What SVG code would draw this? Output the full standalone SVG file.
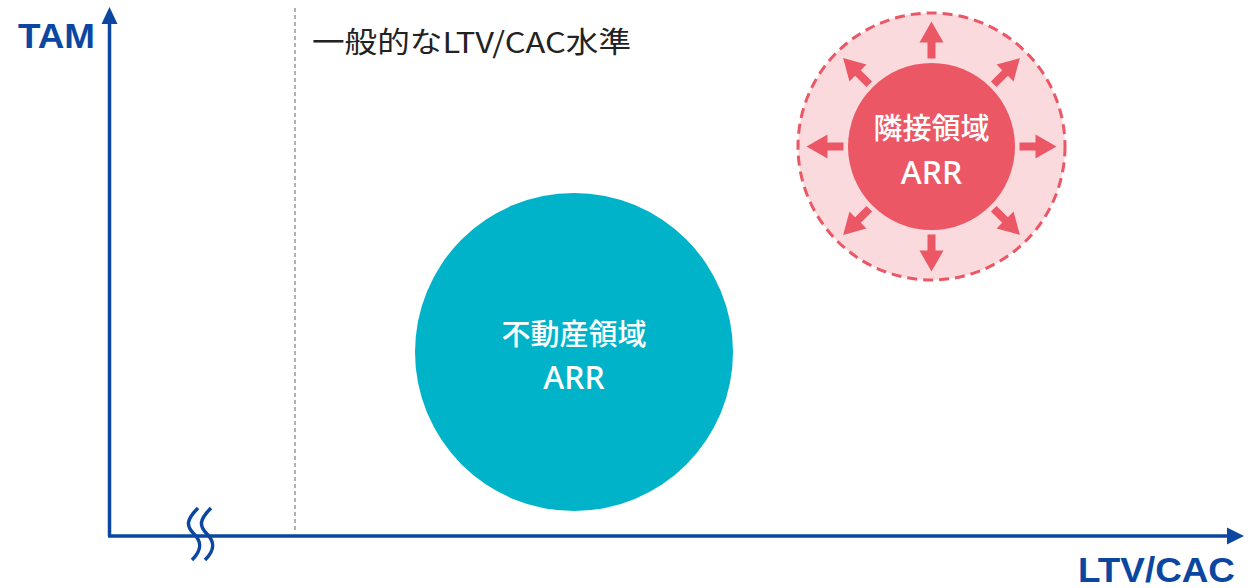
<svg xmlns="http://www.w3.org/2000/svg" width="1254" height="588" viewBox="0 0 1254 588">
<style>
.axis{stroke:#0b47a1;stroke-width:3.5;fill:none}
.axlab{font-family:"Liberation Sans","Noto Sans CJK JP",sans-serif;font-weight:bold;font-size:35px;fill:#0b47a1}
.lbl{font-family:"Noto Sans CJK JP",sans-serif;font-weight:500;fill:#fff;text-anchor:middle}
.arr{font-family:"Noto Sans","Noto Sans CJK JP",sans-serif;font-weight:500;fill:#fff;text-anchor:middle;font-size:32px}
.parrow{fill:#ec5766}
</style>
<defs>
<path id="pa" d="M88 -4 L104 -4 L104 -12 L125 0 L104 12 L104 4 L88 4 Z"/>
</defs>
<g id="connectors">
<line class="axis" x1="109.5" y1="536" x2="109.5" y2="20"/>
<polygon points="109.5,7 101.5,24 117.5,24" fill="#0b47a1"/>
<line class="axis" x1="108" y1="536" x2="1230" y2="536"/>
<polygon points="1244,536 1227,527.5 1227,544.5" fill="#0b47a1"/>
<path class="axis" d="M198 508 C186 520,186 526,194 534 C202 542,202 550,192 560"/>
<path class="axis" d="M211 508 C199 520,199 526,207 534 C215 542,215 550,205 560"/>
<line x1="295" y1="8" x2="295" y2="533" stroke="#999" stroke-width="1.5" stroke-dasharray="4 3"/>
</g>
<g id="tam"><text class="axlab" x="18" y="48" textLength="77" lengthAdjust="spacingAndGlyphs">TAM</text></g>
<g id="ltvcac"><text class="axlab" x="1078" y="582" textLength="157" lengthAdjust="spacingAndGlyphs">LTV/CAC</text></g>
<g id="benchmark"><text x="312" y="53" font-family="'Noto Sans CJK JP',sans-serif" font-size="29" fill="#222" textLength="319" lengthAdjust="spacingAndGlyphs">一般的なLTV/CAC水準</text></g>
<g id="realestate">
<circle cx="574" cy="352" r="159" fill="#00b3c9"/>
<text class="lbl" x="574" y="345" font-size="29">不動産領域</text>
<text class="arr" x="574" y="389">ARR</text>
</g>
<g id="adjacent">
<circle cx="931.5" cy="146.5" r="133.5" fill="#fadadd" stroke="#ec5766" stroke-width="3" stroke-dasharray="10 6"/>
<g transform="translate(931.5 146.5)" class="parrow">
<use href="#pa"/>
<use href="#pa" transform="rotate(45)"/>
<use href="#pa" transform="rotate(90)"/>
<use href="#pa" transform="rotate(135)"/>
<use href="#pa" transform="rotate(180)"/>
<use href="#pa" transform="rotate(225)"/>
<use href="#pa" transform="rotate(270)"/>
<use href="#pa" transform="rotate(315)"/>
</g>
<circle cx="931.5" cy="146.5" r="83.5" fill="#ec5766"/>
<text class="lbl" x="931.5" y="139" font-size="29">隣接領域</text>
<text class="arr" x="931.5" y="184">ARR</text>
</g>
</svg>
